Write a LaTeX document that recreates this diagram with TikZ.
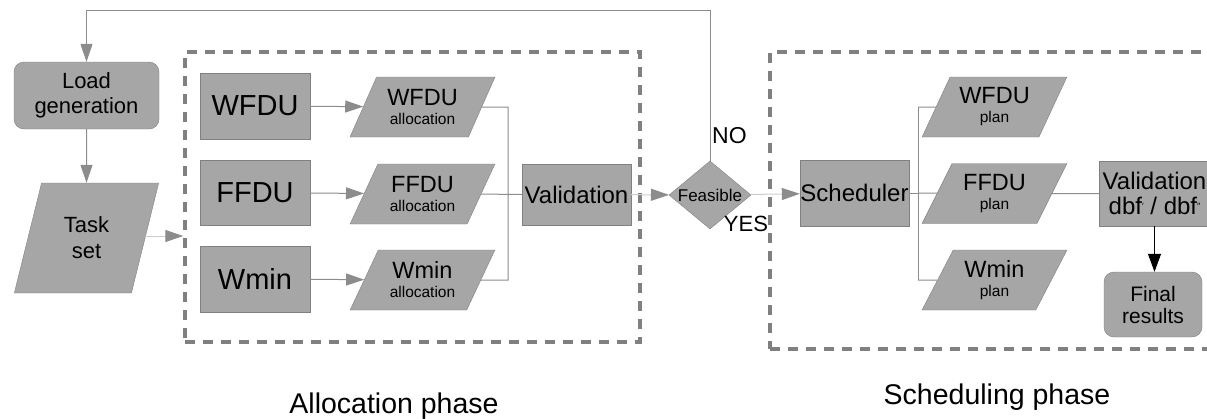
\documentclass[tikz,border=0pt]{standalone}
\usepackage{fontspec}
\setmainfont{Liberation Sans}
\usetikzlibrary{shapes.geometric,arrows.meta}
\definecolor{boxgray}{HTML}{A6A6A6}
\definecolor{edgegray}{HTML}{808080}
\definecolor{linegray}{HTML}{8C8C8C}
\definecolor{lightline}{HTML}{CCCCCC}
\definecolor{dashgray}{HTML}{808080}
\newcommand{\fs}[2]{\fontsize{#1}{#2}\selectfont}
\tikzset{
  box/.style={draw=edgegray, fill=boxgray, inner sep=0pt, align=center, text=black},
  rbox/.style={box, rounded corners=10pt},
  para/.style={box, trapezium, trapezium stretches=true, trapezium left angle=#1, trapezium right angle=180-#1},
  para60/.style={para=60, minimum width=145pt, minimum height=60pt, font=\fs{15.5}{19}},
  dia/.style={draw=edgegray, fill=boxgray, diamond, inner sep=0pt},
  phase/.style={draw=dashgray, line width=3.5pt, dash pattern=on 10pt off 8pt, inner sep=0pt},
  conn/.style={draw=linegray, line width=1pt},
  arr/.style={conn, -{Triangle[length=18pt,width=12pt,color=linegray]}},
  larr/.style={draw=lightline, line width=1pt, -{Triangle[length=18pt,width=12pt,color=linegray]}},
  barr/.style={draw=black, line width=1pt, -{Triangle[length=18pt,width=13pt]}},
  big/.style={font=\fs{29}{32}},
}
\begin{document}
\begin{tikzpicture}[x=1pt,y=-1pt]
\useasboundingbox (0,0) rectangle (1207,418);
% phase boxes
\node[phase, minimum width=455pt, minimum height=290pt] (alloc) at (412.5,197) {};
\node[phase, minimum width=445pt, minimum height=297pt] (sched) at (992.5,200.5) {};
% left column
\node[rbox, minimum width=145pt, minimum height=67pt, font=\fs{22}{25}] (load) at (86.5,95.5) {Load\\generation};
\node[para=72, minimum width=145pt, minimum height=110pt, font=\fs{22}{26}] (ts) at (86.5,238) {Task\\set};
% allocation algorithms
\node[box, big, minimum width=110pt, minimum height=66pt] (wfdu) at (255,106) {WFDU};
\node[box, big, minimum width=110pt, minimum height=65pt] (ffdu) at (255,192.5) {FFDU};
\node[box, big, minimum width=110pt, minimum height=66pt] (wmin) at (255,279) {Wmin};
% allocations
\node[para60] (wa) at (422.5,107) {{\fontsize{23.5}{19}\selectfont WFDU}\\allocation};
\node[para60] (fa) at (422.5,194) {{\fontsize{23.5}{19}\selectfont FFDU}\\allocation};
\node[para60] (ma) at (422.5,280) {{\fontsize{23.5}{19}\selectfont Wmin}\\allocation};
\coordinate (j1) at (508,107);
\coordinate (j3) at (508,280);
\node[box, minimum width=109pt, minimum height=61pt, font=\fs{24}{26}] (val) at (576.5,194.5) {Validation};
% decision
\node[dia, minimum width=82pt, minimum height=68pt] (fe) at (710,195) {};
\node[font=\fs{17}{19}, inner sep=0pt] (fet) at (fe) {Feasible};
\node[font=\fs{23}{25}, anchor=west, inner sep=0pt] (no) at (712,136) {NO};
\node[font=\fs{22}{24}, inner sep=0pt] (yes) at (746,224) {YES};
% scheduling
\node[box, minimum width=109pt, minimum height=66pt, font=\fs{24}{26}] (sch) at (854.5,193) {Scheduler};
\coordinate (j4) at (918,193);
\coordinate (j5) at (918,107);
\coordinate (j6) at (918,280);
\node[para60] (wp) at (994.5,107) {{\fontsize{23.5}{19}\selectfont WFDU}\\plan};
\node[para60] (fp) at (994.5,193.5) {{\fontsize{23.5}{19}\selectfont FFDU}\\plan};
\node[para60] (mp) at (994.5,280) {{\fontsize{23.5}{19}\selectfont Wmin}\\plan};
\node[box, minimum width=111pt, minimum height=65pt, font=\fs{24}{25}] (vd) at (1154.5,193.5) {Validation\\dbf\raisebox{5pt}{\fs{9}{9}′} / dbf\raisebox{5pt}{\fs{9}{9}″}};
\node[rbox, minimum width=98pt, minimum height=65pt, font=\fs{21}{22}] (fr) at (1153,304.5) {Final\\results};
% phase labels
\node[font=\fs{28.5}{30}, anchor=base, inner sep=0pt] (alab) at (394,413) {Allocation phase};
\node[font=\fs{28.5}{30}, anchor=base, inner sep=0pt] (slab) at (997,404) {Scheduling phase};
% connectors
\coordinate (top) at (710,10);
\draw[arr] (fe.north) -- (top) -| (load.north);
\draw[arr] (load) -- (ts);
\draw[larr] ([yshift=2pt]ts.east) -- ([yshift=2pt]ts.east -| alloc.west);
\draw[arr] (wfdu) -- (wa);
\draw[arr] (ffdu) -- (fa);
\draw[arr] (wmin) -- (ma);
\draw[conn] (wa) -- (j1) -- (j3) -- (ma);
\draw[conn] (fa) -- (val);
\draw[larr] (val) -- (fe);
\draw[larr] (fe) -- (sch);
\draw[conn] (sch) -- (j4);
\draw[conn] (j5) -- (j6);
\draw[conn] (j5) -- (wp);
\draw[conn] (j4) -- (fp);
\draw[conn] (j6) -- (mp);
\draw[conn] (fp) -- (vd);
\draw[barr] (vd.south) -- (vd.south |- fr.north);
\end{tikzpicture}
\end{document}
